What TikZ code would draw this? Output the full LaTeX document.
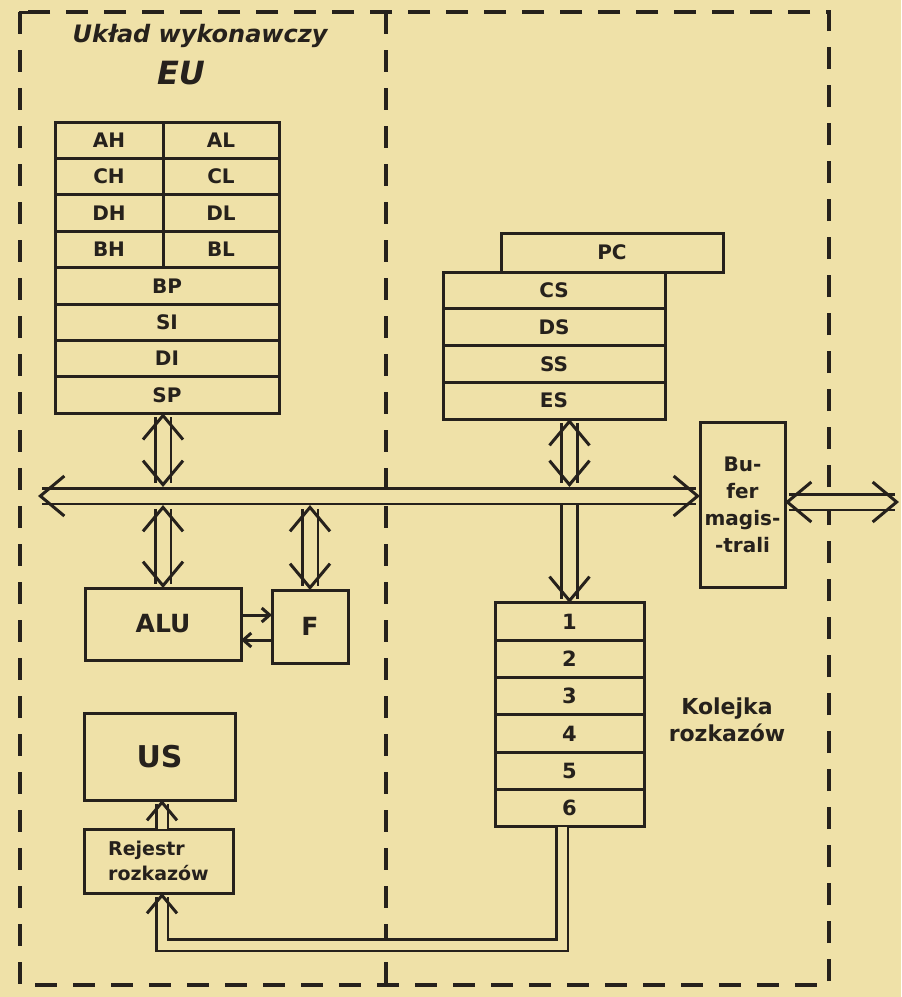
\documentclass[tikz,border=0pt]{standalone}
\usepackage{fontspec}
\setmainfont{DejaVu Sans}
\usetikzlibrary{arrows.meta,positioning,calc}

\definecolor{paper}{RGB}{239,225,168}
\definecolor{ink}{RGB}{38,33,28}

\begin{document}
\begin{tikzpicture}[
  x=0.5pt, y=-0.5pt,
  color=ink,
  line width=1.5pt,
  >={Straight Barb[length=4pt,width=7pt]},
  font=\bfseries\fontsize{10}{12}\selectfont,
  cell/.style={draw, inner sep=0pt, outer sep=0pt, minimum height=18.2pt},
  hicell/.style={cell, minimum width=54pt},
  locell/.style={cell, minimum width=58pt},
  widecell/.style={cell, minimum width=112pt},
  segcell/.style={cell, minimum width=111pt, minimum height=18.375pt},
  qcell/.style={cell, minimum width=74.5pt, minimum height=18.67pt, font=\bfseries\fontsize{10.5}{12}\selectfont},
  unit/.style={draw, inner sep=0pt, outer sep=0pt, align=center},
  busline/.style={double=paper, double distance=6.5pt, line width=1.3pt, >={Straight Barb[length=12pt,width=20pt,line width=1.5pt]}},
  thinbus/.style={double=paper, double distance=4.5pt, line width=1.3pt, >={Straight Barb[length=9pt,width=15pt,line width=1.5pt]}},
  unitframe/.style={line width=1.6pt, dash pattern=on 11pt off 8pt}
]
\fill[paper] (0,0) rectangle (901,997);
\useasboundingbox (0,0) rectangle (901,997);

% dashed outline of the two units
\draw[unitframe] (20,12) rectangle (829,985);
\draw[unitframe] (386,12) -- (386,985);
\draw (20,34) |- (36,12);

\node[font=\bfseries\itshape\fontsize{12}{14}\selectfont] (eutitle) at (200,36) {Układ wykonawczy};
\node[font=\bfseries\itshape\fontsize{16}{18}\selectfont] (eu) at (181,73) {EU};

% general registers
\foreach \hi/\lo [count=\i from 0] in {AH/AL,CH/CL,DH/DL,BH/BL}{
  \node[hicell] (\hi) at (109,{140.2+36.4*\i}) {\hi};
  \node[locell, right=0pt of \hi] (\lo) {\lo};
}
\foreach \r [count=\i from 4] in {BP,SI,DI,SP}
  \node[widecell] (\r) at (167,{140.2+36.4*\i}) {\r};

% segment registers
\node[segcell, minimum height=19.5pt] (PC) at (612,252.5) {PC};
\foreach \s [count=\i from 0] in {CS,DS,SS,ES}
  \node[segcell] (\s) at (554,{290.4+36.75*\i}) {\s};

\node[unit, minimum width=42.5pt, minimum height=82.5pt, font=\bfseries\fontsize{10}{13.5}\selectfont] (buf) at (742.5,504.5) {Bu-\\fer\\magis-\\-trali};

\node[unit, minimum width=78pt, minimum height=36pt, font=\bfseries\fontsize{12.5}{14}\selectfont] (ALU) at (163,624) {ALU};
\node[unit, minimum width=38pt, minimum height=36.5pt, font=\bfseries\fontsize{12.5}{14}\selectfont] (F) at (310,626.5) {F};

% instruction queue
\foreach \n in {1,...,6}
  \node[qcell] (q\n) at (569.5,{603+37.33*\n-18.67}) {\n};
\node[align=center, font=\bfseries\fontsize{11}{13.5}\selectfont] (kolejka) at (727,720) {Kolejka\\rozkazów};

\node[unit, minimum width=75.5pt, minimum height=43.5pt, font=\bfseries\fontsize{15}{17}\selectfont] (US) at (159.5,756.5) {US};
\node[unit, minimum width=74.5pt, minimum height=32pt, align=left, font=\bfseries\fontsize{9.5}{12.5}\selectfont] (rej) at (158.5,861) {Rejestr\\rozkazów};

% buses
\coordinate (busL) at (38,496);
\coordinate (bustop) at (0,487);
\coordinate (busbot) at (0,505);
\coordinate (extbus) at (899,502);
\coordinate (loopy) at (0,945);

\draw[busline,<->] (busL) -- (buf.west |- busL);
\draw[busline,<->] (buf.east |- extbus) -- (extbus);

\draw[busline,<->] (SP.south -| AH.east) -- (bustop -| AH.east);
\draw[busline,<->] (busbot -| ALU.north) -- (ALU.north);
\draw[busline,<->] (busbot -| F.north) -- (F.north);
\draw[busline,<->] (ES.south -| q1.north) -- (bustop -| q1.north);
\draw[busline,->] (busbot -| q1.north) -- (q1.north);

\draw[->] ([yshift=4.5pt]ALU.east) -- ([yshift=4.5pt]ALU.east -| F.west);
\draw[->] ([yshift=-8pt]ALU.east -| F.west) -- ([yshift=-8pt]ALU.east);

\draw[thinbus,->] ([xshift=-3.75pt]q6.south) |- ([xshift=1.75pt]rej.south |- loopy) -- ([xshift=1.75pt]rej.south);
\draw[thinbus,->] ([xshift=1.75pt]rej.north) -- ([xshift=1.75pt]rej.north |- US.south);

\end{tikzpicture}
\end{document}
